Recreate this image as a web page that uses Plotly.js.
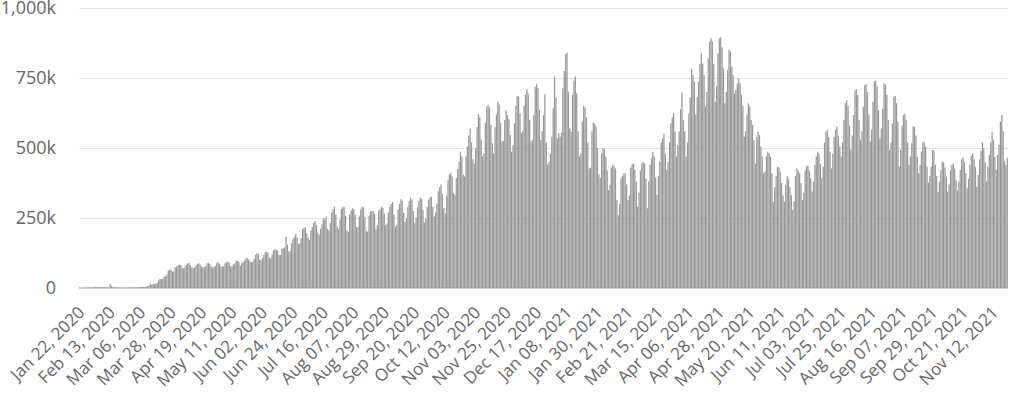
<!DOCTYPE html>
<html>
<head>
<meta charset="utf-8">
<script src="https://cdn.plot.ly/plotly-3.0.1.min.js"></script>
<style>
  html, body { margin: 0; padding: 0; background: #ffffff; }
  #chart { width: 1011px; height: 393px; }
</style>
</head>
<body>
<div id="chart"></div>
<script>
// Daily new cases, in thousands, one array per month (first day: Jan 22, 2020)
const firstDay = '2020-01-22';
const cases2020Jan = [0.6,0.1,0.3,0.5,0.7,0.8,2.7,0.6,2.1,1.7];
const cases2020Feb = [2.1,4.7,3.1,4.0,3.7,3.2,3.6,2.7,3.0,2.6,2.0,0.4,15.2,6.5,2.1,2.1,1.9,1.8,0.4,0.6,1.0,1.0,0.2,0.6,0.8,0.9,1.3,1.4,1.8];
const cases2020Mar = [2.0,1.9,2.4,2.2,2.8,3.9,4.0,3.9,4.0,5.0,7.5,8.0,16,11,13,14,17,18,27,32,31,33,40,42,49,62,66,64,58,60,74];
const cases2020Apr = [77,80,84,82,72,70,76,82,88,90,82,74,71,73,80,85,88,84,76,74,75,78,88,90,86,76,72,76,79,88];
const cases2020May = [92,86,78,76,79,88,92,95,90,78,76,84,88,96,97,94,80,88,92,98,105,108,102,95,92,95,104,118,124,122,102];
const cases2020Jun = [100,108,118,128,130,126,108,105,120,135,138,137,134,118,118,140,142,145,183,155,130,132,160,174,182,193,180,158,160,178];
const cases2020Jul = [210,215,217,195,180,172,205,218,232,239,225,198,190,212,228,249,245,255,212,206,232,270,281,290,262,219,210,245,282,290,288];
const cases2020Aug = [258,205,201,262,278,285,281,262,218,217,255,280,290,288,252,205,201,258,273,276,274,265,210,225,276,281,290,286,265,225,230];
const cases2020Sep = [270,290,300,307,262,219,225,280,300,317,312,268,237,248,290,310,323,316,275,232,252,290,312,323,318,278,233,248,290,315];
const cases2020Oct = [323,326,290,255,270,302,345,360,370,335,285,267,330,385,405,412,398,340,332,392,425,450,487,470,405,398,470,505,545,570,520];
const cases2020Nov = [460,445,499,575,621,610,530,470,480,590,648,654,645,582,517,481,574,620,665,655,590,523,525,600,636,618,603,546,487,510];
const cases2020Dec = [588,650,686,683,624,553,560,650,690,710,695,600,523,530,617,719,729,714,636,529,560,617,692,520,440,450,480,540,642,755,680];
const cases2021Jan = [535,553,540,555,713,775,835,840,700,570,558,690,740,755,695,560,470,480,595,650,645,610,520,427,430,560,591,587,576,500,405];
const cases2021Feb = [393,480,499,495,470,420,350,370,430,439,435,427,314,260,300,392,400,410,410,370,314,330,430,442,445,421,380,290];
const cases2021Mar = [340,420,445,450,445,390,285,380,440,463,487,470,395,332,400,451,520,535,552,480,421,450,520,588,610,626,560,470,510,560,638];
const cases2021Apr = [698,600,560,469,520,624,681,782,760,737,620,683,737,800,838,802,760,648,700,820,880,892,880,800,665,720,838,892,895,860];
const cases2021May = [785,660,700,779,850,845,790,760,695,707,730,749,731,690,650,540,560,620,660,648,600,582,529,445,540,558,546,505,470,410,415];
const cases2021Jun = [470,487,480,469,410,308,360,400,433,430,415,375,330,308,370,398,390,360,332,279,310,400,427,420,410,375,314,340,420,436];
const cases2021Jul = [436,420,392,345,380,440,470,487,480,445,392,433,520,558,564,540,487,427,480,540,565,578,543,505,470,520,600,660,671,650,580];
const cases2021Aug = [493,545,618,705,710,690,600,529,560,648,724,729,700,620,523,565,665,738,740,720,636,535,570,640,731,726,690,600,493,520,588];
const cases2021Sep = [683,686,660,594,433,493,580,618,621,600,520,440,470,517,578,575,545,469,410,440,487,523,520,505,433,376,400,433,493,490];
const cases2021Oct = [440,400,344,380,421,451,448,430,398,344,370,420,440,445,427,386,348,380,421,460,467,450,410,356,390,440,471,481,460,433,362];
const cases2021Nov = [404,460,490,519,500,450,380,433,475,520,558,529,469,421,475,511,594,618,560,455,440,465];

const yTickVals = [0, 250, 500, 750, 1000];
const yTickText = ['0', '250k', '500k', '750k', '1,000k'];
const xTickEveryDays = 22;

const values = [].concat(
  cases2020Jan, cases2020Feb, cases2020Mar, cases2020Apr, cases2020May, cases2020Jun,
  cases2020Jul, cases2020Aug, cases2020Sep, cases2020Oct, cases2020Nov, cases2020Dec,
  cases2021Jan, cases2021Feb, cases2021Mar, cases2021Apr, cases2021May, cases2021Jun,
  cases2021Jul, cases2021Aug, cases2021Sep, cases2021Oct, cases2021Nov
);
const DAY = 86400000;
const start = new Date(firstDay + 'T00:00:00Z');
const dates = values.map((v, i) => new Date(start.getTime() + i * DAY).toISOString().slice(0, 10));
const lastDate = dates[dates.length - 1];

const trace = {
  type: 'bar',
  x: dates,
  y: values,
  marker: { color: '#999999', line: { width: 0 } },
  hoverinfo: 'skip'
};

const yFont = { family: '"Open Sans", sans-serif', size: 18, color: '#666666' };
const xFont = { family: '"Open Sans", sans-serif', size: 17, color: '#666666' };

const layout = {
  width: 1011,
  height: 393,
  margin: { l: 79, r: 3, t: 7, b: 105, pad: 0 },
  paper_bgcolor: '#ffffff',
  plot_bgcolor: '#ffffff',
  showlegend: false,
  bargap: 0.1,
  font: yFont,
  xaxis: {
    type: 'date',
    range: [
      new Date(start.getTime() - 0.5 * DAY).toISOString(),
      new Date(new Date(lastDate + 'T00:00:00Z').getTime() + 0.5 * DAY).toISOString()
    ],
    tick0: firstDay,
    dtick: xTickEveryDays * DAY,
    tickformat: '%b %d, %Y',
    tickangle: -45,
    tickfont: xFont,
    showgrid: false,
    showline: false,
    zeroline: false,
    ticks: '',
    ticklabelstandoff: 10,
    ticklabeloverflow: 'allow',
    automargin: false
  },
  yaxis: {
    range: [0, 1003.6],
    tickmode: 'array',
    tickvals: yTickVals,
    ticktext: yTickText,
    tickfont: yFont,
    showgrid: true,
    gridcolor: '#e4e4e4',
    gridwidth: 1,
    zeroline: true,
    zerolinecolor: '#c8d3ea',
    zerolinewidth: 2,
    showline: false,
    ticks: '',
    ticklabelstandoff: 22,
    ticklabeloverflow: 'allow',
    automargin: false
  }
};

Plotly.newPlot('chart', [trace], layout, { displayModeBar: false, staticPlot: true });
</script>
</body>
</html>
